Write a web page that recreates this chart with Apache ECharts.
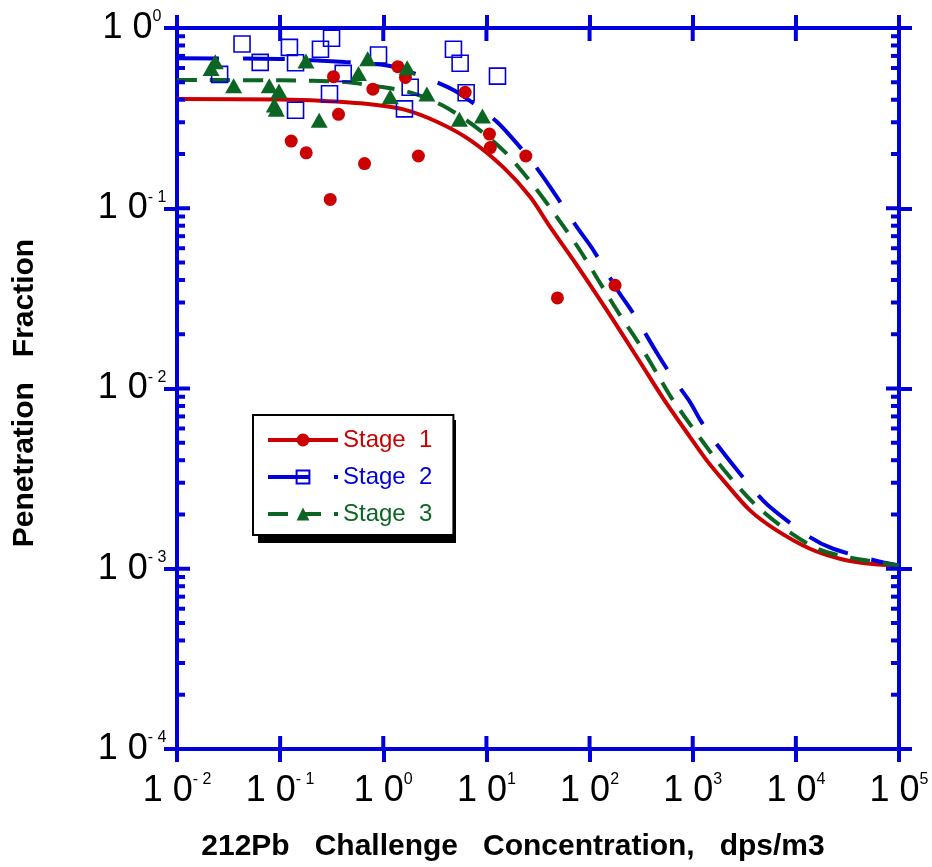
<!DOCTYPE html>
<html>
<head>
<meta charset="utf-8">
<title>Penetration Fraction vs 212Pb Challenge Concentration</title>
<script src="https://cdn.jsdelivr.net/npm/echarts@6/dist/echarts.min.js"></script>
<style>
  html, body { margin: 0; padding: 0; background: #ffffff; }
  #chart { width: 932px; height: 867px; }
</style>
</head>
<body>
<div id="chart"></div>
<script>
// ---- measured penetration fractions (symbols) ----
const stage1X = [0.128, 0.179, 0.306, 0.329, 0.368, 0.658, 0.793, 1.385, 1.641, 2.19, 6.22, 10.7, 10.9, 24.1, 48.8, 176.6];
const stage1Y = [0.236, 0.203, 0.112, 0.537, 0.332, 0.177, 0.458, 0.610, 0.532, 0.195, 0.440, 0.258, 0.217, 0.195, 0.0318, 0.0374];

const stage2X = [0.0259, 0.0427, 0.0641, 0.123, 0.141, 0.141, 0.246, 0.301, 0.315, 0.409, 0.899, 1.605, 1.823, 4.79, 5.56, 6.36, 12.8];
const stage2Y = [0.553, 0.815, 0.645, 0.781, 0.642, 0.350, 0.762, 0.432, 0.877, 0.560, 0.708, 0.356, 0.469, 0.762, 0.637, 0.437, 0.541];

const stage3X = [0.0235, 0.0214, 0.0354, 0.0784, 0.0974, 0.0877, 0.0917, 0.178, 0.239, 0.706, 0.575, 1.704, 1.167, 2.646, 5.47, 9.15];
const stage3Y = [0.650, 0.597, 0.478, 0.478, 0.447, 0.374, 0.354, 0.656, 0.308, 0.675, 0.560, 0.602, 0.416, 0.430, 0.312, 0.325];

// ---- fitted penetration curves ----
const fit1X = [0.01, 0.1, 0.245, 0.746, 1.569, 3.307, 6.95, 14.61, 26.5, 41.4, 69.7, 146.8, 308.5, 518.8, 942, 1367, 1979, 3592, 6517, 13694, 26750, 52240, 100000];
const fit1Y = [0.4035, 0.401, 0.395, 0.378, 0.3535, 0.3018, 0.2388, 0.1685, 0.1157, 0.0788, 0.0515, 0.0272, 0.01403, 0.00879, 0.00538, 0.003994, 0.003093, 0.002107, 0.001632, 0.001291, 0.001136, 0.001066, 0.001043];

const fit2X = [0.01, 0.1, 0.427, 0.694, 1.255, 3.011, 4.788, 7.22, 12.62, 19.7, 28.5, 41.4, 75.2, 108.8, 186.7, 265.7, 464.3, 648.6, 942, 1177, 1645, 3457, 5402, 13694, 23040, 58430, 100000];
const fit2Y = [0.679, 0.673, 0.647, 0.637, 0.610, 0.511, 0.4527, 0.3873, 0.3018, 0.229, 0.1773, 0.1315, 0.0788, 0.0585, 0.0351, 0.02605, 0.01529, 0.01135, 0.00841, 0.00672, 0.00505, 0.002965, 0.002246, 0.001498, 0.001291, 0.001112, 0.001043];

const fit3X = [0.01, 0.1, 0.427, 0.933, 1.823, 3.697, 7.824, 15.08, 27.9, 46.8, 78.6, 120.1, 193.1, 301.8, 471.5, 629.5, 1223, 2088, 4016, 7966, 16740, 33960, 71390, 100000];
const fit3Y = [0.5144, 0.5125, 0.5013, 0.472, 0.4395, 0.3736, 0.2831, 0.2054, 0.1361, 0.0915, 0.0598, 0.0404, 0.02605, 0.01775, 0.01158, 0.00879, 0.00516, 0.003439, 0.002275, 0.001652, 0.00128, 0.001151, 0.001074, 0.001043];

// ---- legend names and tick labels ----
const stageNames = ['Stage  1', 'Stage  2', 'Stage  3'];
const xDecades = [-2, -1, 0, 1, 2, 3, 4, 5];
const xTickExp = ['- 2', '- 1', '0', '1', '2', '3', '4', '5'];
const yDecades = [-4, -3, -2, -1, 0];
const yTickExp = ['- 4', '- 3', '- 2', '- 1', '0'];
const xTitle = '212Pb   Challenge   Concentration,   dps/m3';
const yTitle = 'Penetration   Fraction';

const RED = '#cc0000';
const BLUE = '#0000dd';
const GREEN = '#0b6623';
const AXIS = '#0000dd';
const FONT = '"Liberation Sans", Arial, Helvetica, sans-serif';

const pairs = (xs, ys) => xs.map((x, i) => [x, ys[i]]);

function labelFormatter(decades, exps) {
  return function (v) {
    const e = Math.round(Math.log10(v));
    const i = decades.indexOf(e);
    return '{b|1 0}{s|' + (i >= 0 ? exps[i] : String(e)) + '}';
  };
}

const richLabel = {
  b: { fontSize: 36, fontFamily: FONT, color: '#000', lineHeight: 44 },
  s: { fontSize: 16, fontFamily: FONT, color: '#000', lineHeight: 18, verticalAlign: 'top', padding: [3, 0, 0, 0] }
};

const chart = echarts.init(document.getElementById('chart'), null, { renderer: 'canvas' });

const xAxisBase = {
  type: 'log', logBase: 10, min: 0.01, max: 100000, splitNumber: 7,
  axisLine: { show: true, onZero: false, lineStyle: { color: AXIS, width: 4 } },
  axisTick: { show: true, inside: false, length: 13, lineStyle: { color: AXIS, width: 4 } },
  splitLine: { show: false },
  minorTick: { show: false },
  minorSplitLine: { show: false }
};
const yAxisBase = {
  type: 'log', logBase: 10, min: 0.0001, max: 1, splitNumber: 4,
  axisLine: { show: true, onZero: false, lineStyle: { color: AXIS, width: 4 } },
  axisTick: { show: true, inside: false, length: 13, lineStyle: { color: AXIS, width: 4 } },
  splitLine: { show: false },
  minorTick: { show: false },
  minorSplitLine: { show: false }
};

const LEGEND_LEFT = 253, LEGEND_TOP = 415;

const option = {
  animation: false,
  backgroundColor: '#ffffff',
  grid: { left: 177, right: 33, top: 28, bottom: 118, containLabel: false, outerBoundsMode: 'none' },
  xAxis: [
    Object.assign({}, xAxisBase, {
      position: 'bottom',
      axisLabel: {
        show: true, margin: 20, formatter: labelFormatter(xDecades, xTickExp), rich: richLabel,
        align: 'center', verticalAlign: 'top', showMinLabel: true, showMaxLabel: true, hideOverlap: false
      }
    }),
    Object.assign({}, xAxisBase, { position: 'top', axisLabel: { show: false } })
  ],
  yAxis: [
    Object.assign({}, yAxisBase, {
      position: 'left',
      axisLabel: {
        show: true, margin: 45, formatter: labelFormatter(yDecades, yTickExp), rich: richLabel,
        align: 'center', verticalAlign: 'middle', showMinLabel: true, showMaxLabel: true, hideOverlap: false
      }
    }),
    Object.assign({}, yAxisBase, { position: 'right', axisLabel: { show: false } })
  ],
  legend: {
    show: true,
    z: 20,
    orient: 'vertical',
    left: LEGEND_LEFT, top: LEGEND_TOP,
    padding: [13, 21, 9, 13],
    itemWidth: 70, itemHeight: 16, itemGap: 13,
    backgroundColor: '#ffffff',
    borderColor: '#000000', borderWidth: 2, borderRadius: 0,
    selectedMode: false,
    lineStyle: { width: 4 },
    textStyle: { fontSize: 24, fontFamily: FONT },
    data: [
      { name: stageNames[0], textStyle: { color: RED } },
      { name: stageNames[1], textStyle: { color: BLUE } },
      { name: stageNames[2], textStyle: { color: GREEN } }
    ]
  },
  series: [
    {
      name: stageNames[0], type: 'line', data: pairs(fit1X, fit1Y), smooth: 0.3,
      symbol: 'circle', symbolSize: 11, showSymbol: false, silent: true, z: 2,
      itemStyle: { color: RED },
      lineStyle: { color: RED, width: 4 }
    },
    {
      name: stageNames[1], type: 'line', data: pairs(fit2X, fit2Y), smooth: 0.3,
      symbol: 'rect', symbolSize: 13, showSymbol: false, silent: true, z: 2,
      itemStyle: { color: 'rgba(0,0,0,0)', borderColor: BLUE, borderWidth: 1.5 },
      lineStyle: { color: BLUE, width: 4, type: [42, 24] }
    },
    {
      name: stageNames[2], type: 'line', data: pairs(fit3X, fit3Y), smooth: 0.3,
      symbol: 'triangle', symbolSize: 13, showSymbol: false, silent: true, z: 2,
      itemStyle: { color: GREEN },
      lineStyle: { color: GREEN, width: 4, type: [20, 13] }
    },
    {
      name: 'Stage 2 data', type: 'scatter', data: pairs(stage2X, stage2Y),
      symbol: 'rect', symbolSize: 16, silent: true, z: 3,
      itemStyle: { color: 'rgba(0,0,0,0)', borderColor: BLUE, borderWidth: 1.6, opacity: 1 }
    },
    {
      name: 'Stage 1 data', type: 'scatter', data: pairs(stage1X, stage1Y),
      symbol: 'circle', symbolSize: 13, silent: true, z: 4,
      itemStyle: { color: RED, opacity: 1 }
    },
    {
      name: 'Stage 3 data', type: 'scatter', data: pairs(stage3X, stage3Y),
      symbol: 'triangle', symbolSize: [17, 15], silent: true, z: 5,
      itemStyle: { color: GREEN, opacity: 1 }
    }
  ]
};

chart.setOption(option);

// Inner halves of the major ticks, plus minor ticks on both vertical axes,
// placed through the grid's own coordinate conversion.
function toPx(x, y) { return chart.convertToPixel({ xAxisIndex: 0, yAxisIndex: 0 }, [x, y]); }
const corner0 = toPx(0.01, 0.0001);
const corner1 = toPx(100000, 1);
const leftX = corner0[0], bottomY = corner0[1], rightX = corner1[0], topY = corner1[1];
const MAJOR_IN = 13, MINOR_IN = 8;
const els = [];
function tick(x1, y1, x2, y2) {
  els.push({
    type: 'line', silent: true, z: 10,
    shape: { x1: x1, y1: y1, x2: x2, y2: y2 },
    style: { stroke: AXIS, lineWidth: 4 }
  });
}
xDecades.forEach(function (e) {
  const px = toPx(Math.pow(10, e), 1)[0];
  tick(px, bottomY, px, bottomY - MAJOR_IN);
  tick(px, topY, px, topY + MAJOR_IN);
});
yDecades.forEach(function (e) {
  const py = toPx(0.01, Math.pow(10, e))[1];
  tick(leftX, py, leftX + MAJOR_IN, py);
  tick(rightX, py, rightX - MAJOR_IN, py);
});
for (let e = yDecades[0]; e < yDecades[yDecades.length - 1]; e++) {
  for (let k = 2; k <= 9; k++) {
    const py = toPx(0.01, k * Math.pow(10, e))[1];
    tick(leftX, py, leftX + MINOR_IN, py);
    tick(rightX, py, rightX - MINOR_IN, py);
  }
}

// Drop shadow behind the legend box
els.push({
  type: 'rect', silent: true, z: 15,
  shape: { x: LEGEND_LEFT + 5, y: LEGEND_TOP + 5, width: 198, height: 123 },
  style: { fill: '#000000' }
});

// Axis titles
els.push({
  type: 'text', silent: true, z: 10,
  x: 513, y: 847,
  style: { text: xTitle, fill: '#000', fontSize: 30, fontWeight: 'bold', fontFamily: FONT, align: 'center', verticalAlign: 'middle' }
});
els.push({
  type: 'text', silent: true, z: 10,
  x: 25, y: 393, rotation: Math.PI / 2,
  style: { text: yTitle, fill: '#000', fontSize: 30, fontWeight: 'bold', fontFamily: FONT, align: 'center', verticalAlign: 'middle' }
});

chart.setOption({ graphic: { elements: els } });
</script>
</body>
</html>
